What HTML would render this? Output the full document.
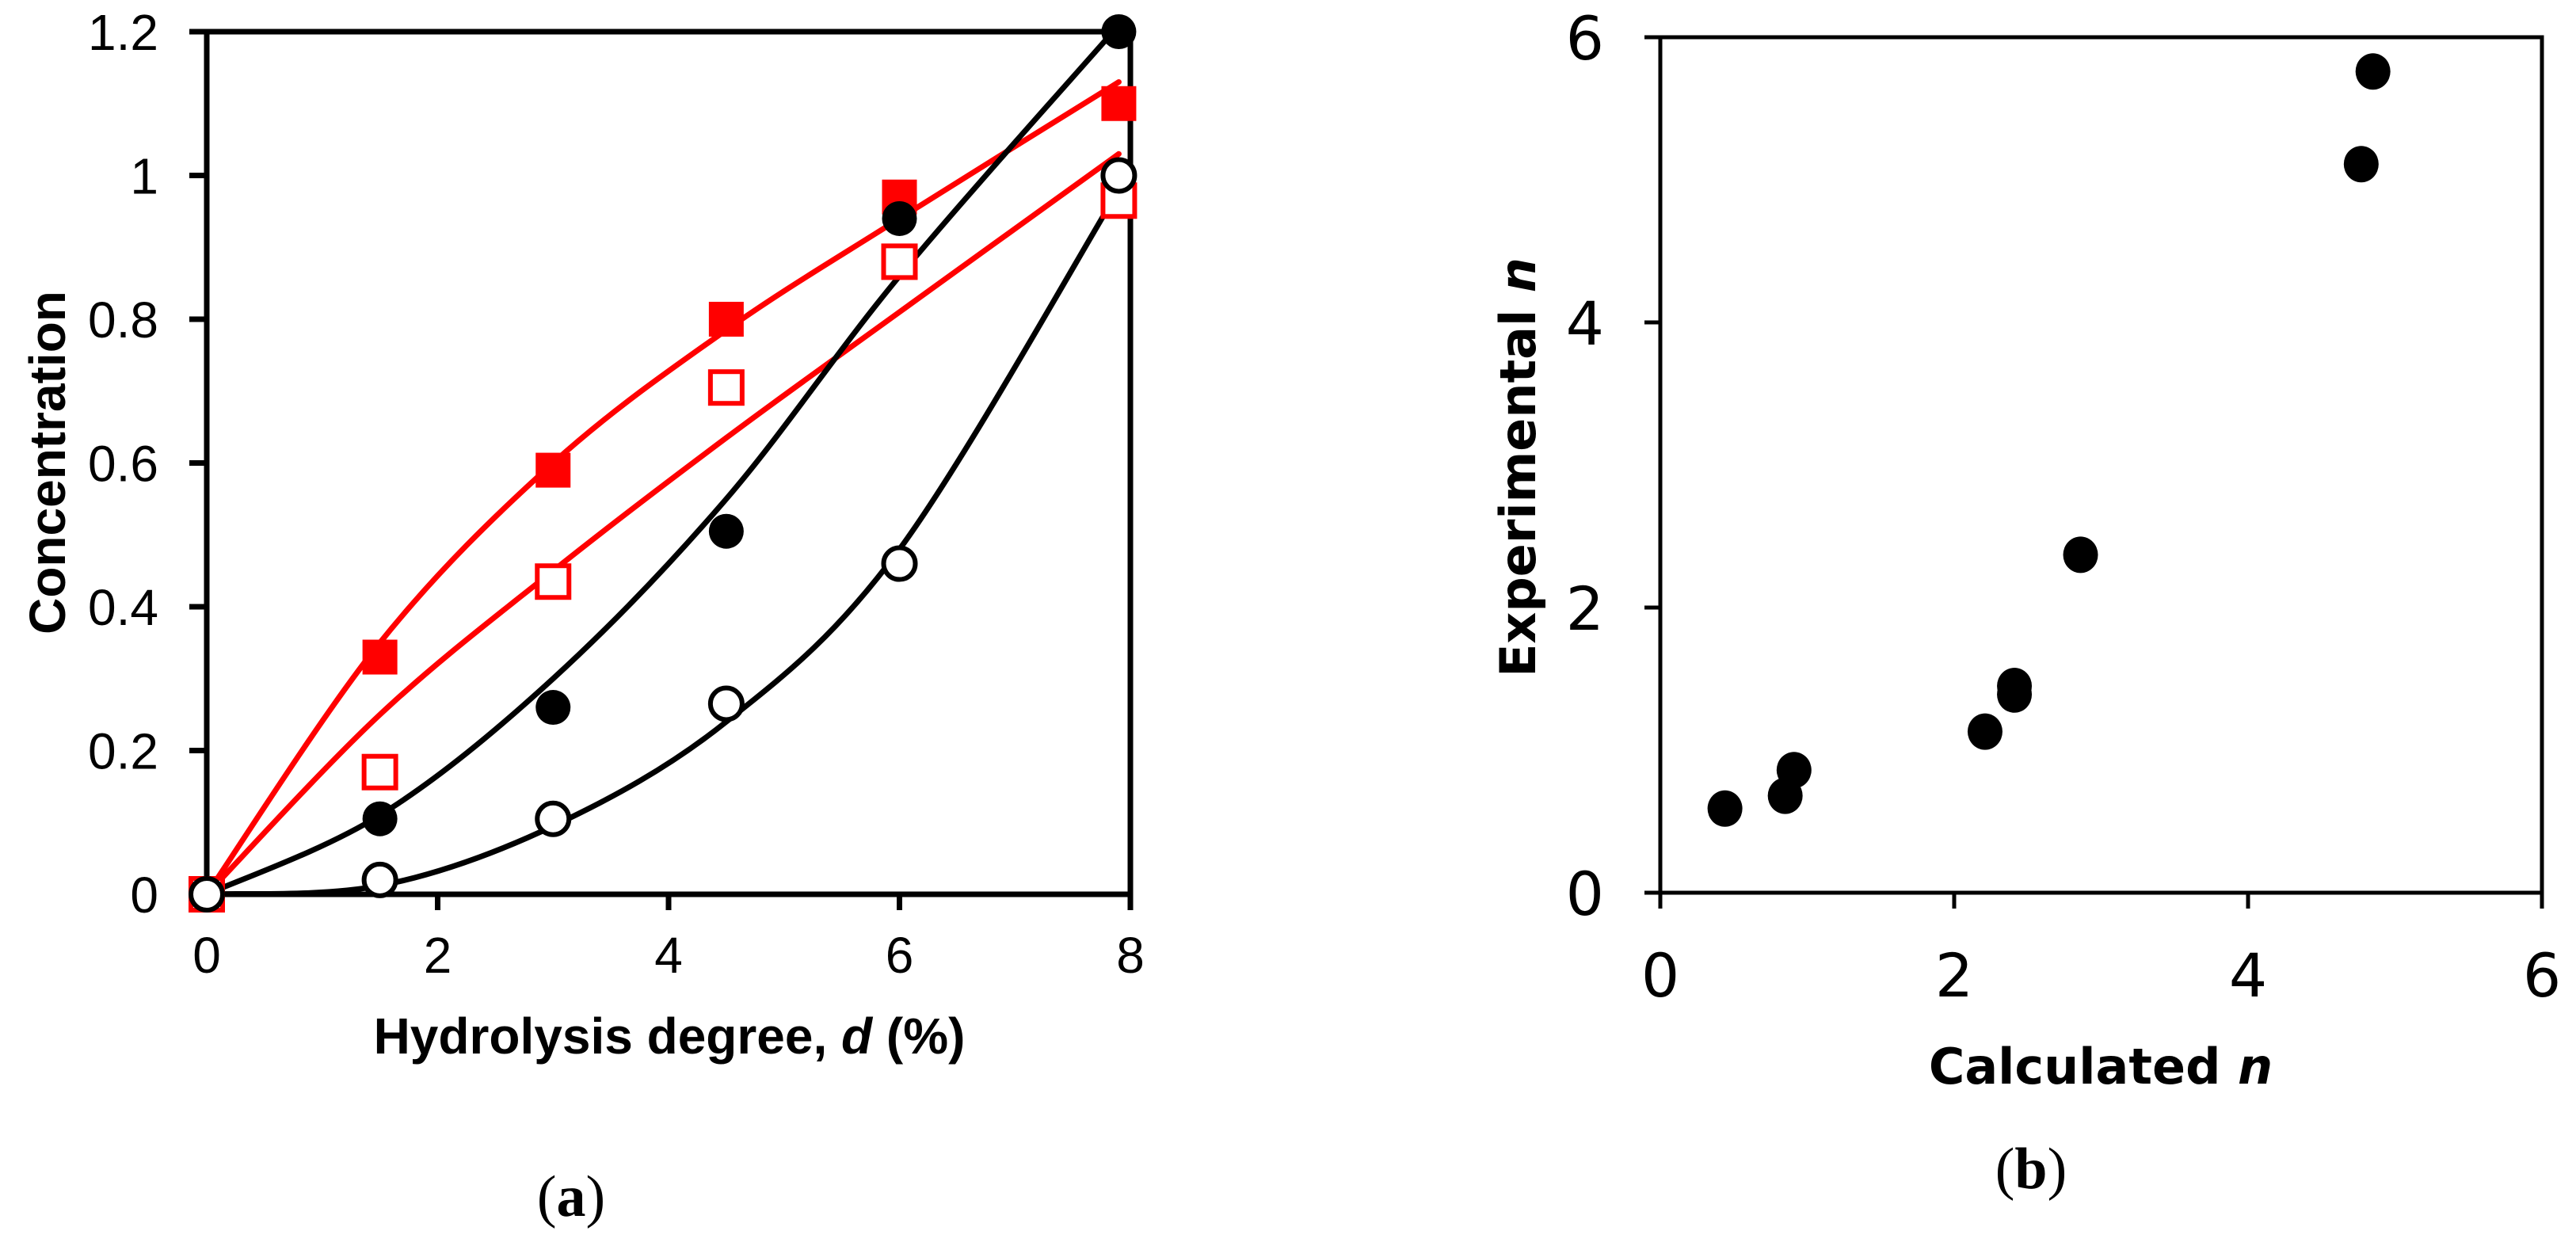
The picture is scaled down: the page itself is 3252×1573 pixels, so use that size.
<!DOCTYPE html>
<html><head><meta charset="utf-8"><style>
html,body{margin:0;padding:0;background:#fff;}
svg{display:block;}
</style></head><body>
<svg id="fig" width="3252" height="1573" viewBox="0 0 3252 1573" xmlns="http://www.w3.org/2000/svg">
<g id="chartA"></g>
<g id="chartB"></g>
</svg>
<script>
// ---- Chart (a) data ----
const aXTicks = [0, 2, 4, 6, 8];
const aYTicks = [0, 0.2, 0.4, 0.6, 0.8, 1, 1.2];
const aYTickLabels = ["0", "0.2", "0.4", "0.6", "0.8", "1", "1.2"];
const aPointX = [0, 1.5, 3, 4.5, 6, 7.9];
const filledCircle = [0, 0.105, 0.26, 0.505, 0.94, 1.2];
const openCircle = [0, 0.02, 0.105, 0.265, 0.46, 1.0];
const filledSquare = [0, 0.33, 0.59, 0.80, 0.97, 1.10];
const openSquare = [0, 0.17, 0.435, 0.705, 0.88, 0.965];
const curveX = [0, 1.5, 3, 4.5, 6, 7.9];
const curveBlackX = [0, 1.5, 3, 4.5, 6, 7.85];
const fitFilledCircle = [0, 0.11, 0.3, 0.55, 0.86, 1.2];
const fitOpenCircle = [0, 0.012, 0.095, 0.24, 0.48, 0.98];
const fitFilledSquare = [0, 0.35, 0.6, 0.785, 0.94, 1.13];
const fitOpenSquare = [0, 0.25, 0.45, 0.635, 0.81, 1.03];
// ---- Chart (b) data ----
const bTicks = [0, 2, 4, 6];
const calcN = [0.44, 0.85, 0.91, 2.21, 2.41, 2.41, 2.86, 4.77, 4.85];
const expN = [0.59, 0.68, 0.86, 1.13, 1.45, 1.39, 2.37, 5.11, 5.76];

const NS = "http://www.w3.org/2000/svg";
function mk(parent, tag, attrs, text) {
  const e = document.createElementNS(NS, tag);
  for (const k in attrs) e.setAttribute(k, attrs[k]);
  if (text !== undefined) e.textContent = text;
  parent.appendChild(e);
  return e;
}
function smoothPath(pts) {
  let d = "M" + pts[0][0] + "," + pts[0][1];
  for (let i = 0; i < pts.length - 1; i++) {
    const p0 = pts[Math.max(0, i - 1)], p1 = pts[i], p2 = pts[i + 1], p3 = pts[Math.min(pts.length - 1, i + 2)];
    const t = 1 / 6;
    const c1 = [p1[0] + (p2[0] - p0[0]) * t, p1[1] + (p2[1] - p0[1]) * t];
    const c2 = [p2[0] - (p3[0] - p1[0]) * t, p2[1] - (p3[1] - p1[1]) * t];
    d += " C" + c1[0] + "," + c1[1] + " " + c2[0] + "," + c2[1] + " " + p2[0] + "," + p2[1];
  }
  return d;
}

// ---------- Chart A ----------
(function () {
  const g = document.getElementById("chartA");
  const L = 261, R = 1427, T = 40, B = 1129;
  const sx = v => L + (v / 8) * (R - L);
  const sy = v => B - (v / 1.2) * (B - T);
  const fontS = '"Liberation Sans", Arial, sans-serif';

  const frame = mk(g, "rect", {x: L, y: T, width: R - L, height: B - T, fill: "none", stroke: "#000", "stroke-width": 7});
  
  

  aYTicks.forEach((v, i) => {
    const t = mk(g, "line", {x1: L - 22, x2: L, y1: sy(v), y2: sy(v), stroke: "#000", "stroke-width": 7});
    
    
    const lb = mk(g, "text", {x: 200, y: sy(v) + 23, "text-anchor": "end", "font-family": fontS, "font-size": 64}, aYTickLabels[i]);
    
    
  });
  aXTicks.forEach(v => {
    const t = mk(g, "line", {x1: sx(v), x2: sx(v), y1: B, y2: B + 20, stroke: "#000", "stroke-width": 7});
    
    
    const lb = mk(g, "text", {x: sx(v), y: 1228, "text-anchor": "middle", "font-family": fontS, "font-size": 64}, String(v));
    
    
  });

  const xt = mk(g, "text", {x: 845, y: 1330, "text-anchor": "middle", "font-family": fontS, "font-size": 64, "font-weight": "bold"});
  
  
  mk(xt, "tspan", {}, "Hydrolysis degree, ");
  mk(xt, "tspan", {"font-style": "italic"}, "d");
  mk(xt, "tspan", {}, " (%)");

  const yt = mk(g, "text", {x: 0, y: 0, transform: "translate(82,584) rotate(-90)", "text-anchor": "middle", "font-family": fontS, "font-size": 64, "font-weight": "bold"}, "Concentration");
  
  

  const cap = mk(g, "text", {x: 721, y: 1535, "text-anchor": "middle", "font-family": '"Liberation Serif", "Times New Roman", serif', "font-size": 74});
  
  
  mk(cap, "tspan", {}, "(");
  mk(cap, "tspan", {"font-weight": "bold"}, "a");
  mk(cap, "tspan", {}, ")");

  function curve(xs, ys, color, name) {
    const pts = xs.map((x, i) => [sx(x), sy(ys[i])]);
    const p = mk(g, "path", {d: smoothPath(pts), fill: "none", stroke: color, "stroke-width": 7, "stroke-linecap": "round"});
    
    
  }
  curve(curveX, fitFilledSquare, "#ff0000", "fit-curve-filled-square");
  curve(curveX, fitOpenSquare, "#ff0000", "fit-curve-open-square");
  curve(curveBlackX, fitFilledCircle, "#000", "fit-curve-filled-circle");
  curve(curveX, fitOpenCircle, "#000", "fit-curve-open-circle");

  aPointX.forEach((x, i) => {
    const a = mk(g, "rect", {x: sx(x) - 22, y: sy(filledSquare[i]) - 22, width: 44, height: 44, fill: "#ff0000"});
    
    
    const b = mk(g, "rect", {x: sx(x) - 20, y: sy(openSquare[i]) - 20, width: 40, height: 40, fill: "#fff", stroke: "#ff0000", "stroke-width": 6});
    
    
  });
  aPointX.forEach((x, i) => {
    const a = mk(g, "circle", {cx: sx(x), cy: sy(filledCircle[i]), r: 22, fill: "#000"});
    
    
    const b = mk(g, "circle", {cx: sx(x), cy: sy(openCircle[i]), r: 20, fill: "#fff", stroke: "#000", "stroke-width": 6});
    
    
  });
})();

// ---------- Chart B ----------
(function () {
  const g = document.getElementById("chartB");
  const L = 2096, R = 3209, T = 47, B = 1127;
  const sx = v => L + (v / 6) * (R - L);
  const sy = v => B - (v / 6) * (B - T);
  const fontV = '"DejaVu Sans", Verdana, sans-serif';

  const frame = mk(g, "rect", {x: L, y: T, width: R - L, height: B - T, fill: "none", stroke: "#000", "stroke-width": 5});
  
  

  bTicks.forEach(v => {
    const t = mk(g, "line", {x1: L - 20, x2: L, y1: sy(v), y2: sy(v), stroke: "#000", "stroke-width": 5});
    
    
    const lb = mk(g, "text", {x: 2025, y: sy(v) + 28, "text-anchor": "end", "font-family": fontV, "font-size": 76}, String(v));
    
    
    const tx = mk(g, "line", {x1: sx(v), x2: sx(v), y1: B, y2: B + 20, stroke: "#000", "stroke-width": 5});
    
    
    const lx = mk(g, "text", {x: sx(v), y: 1258, "text-anchor": "middle", "font-family": fontV, "font-size": 76}, String(v));
    
    
  });

  const xt = mk(g, "text", {x: 2652, y: 1368, "text-anchor": "middle", "font-family": fontV, "font-size": 62, "font-weight": "bold"});
  
  
  mk(xt, "tspan", {}, "Calculated ");
  mk(xt, "tspan", {"font-style": "italic"}, "n");

  const yt = mk(g, "text", {x: 0, y: 0, transform: "translate(1938,590) rotate(-90)", "text-anchor": "middle", "font-family": fontV, "font-size": 62, "font-weight": "bold"});
  
  
  mk(yt, "tspan", {}, "Experimental ");
  mk(yt, "tspan", {"font-style": "italic"}, "n");

  const cap = mk(g, "text", {x: 2564, y: 1500, "text-anchor": "middle", "font-family": '"Liberation Serif", "Times New Roman", serif', "font-size": 74});
  
  
  mk(cap, "tspan", {}, "(");
  mk(cap, "tspan", {"font-weight": "bold"}, "b");
  mk(cap, "tspan", {}, ")");

  calcN.forEach((x, i) => {
    const c = mk(g, "ellipse", {cx: sx(x), cy: sy(expN[i]), rx: 22, ry: 23, fill: "#000"});
    
    
  });
})();
</script>
</body></html>
